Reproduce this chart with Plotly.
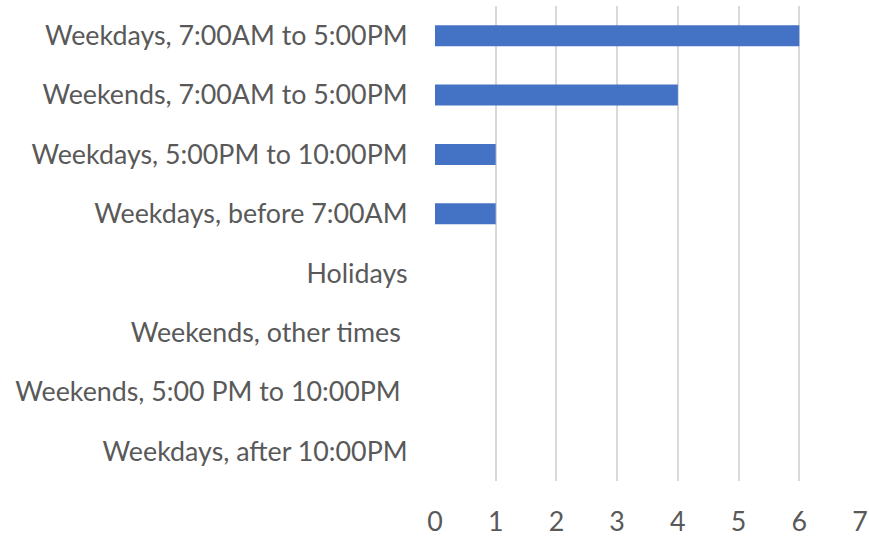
import plotly.graph_objects as go

categories = [
    "Weekdays, 7:00AM to 5:00PM",
    "Weekends, 7:00AM to 5:00PM",
    "Weekdays, 5:00PM to 10:00PM",
    "Weekdays, before 7:00AM",
    "Holidays",
    "Weekends, other times\u00a0",
    "Weekends, 5:00 PM to 10:00PM\u00a0",
    "Weekdays, after 10:00PM",
]
values = [6, 4, 1, 1, 0, 0, 0, 0]
x_ticks = [0, 1, 2, 3, 4, 5, 6, 7]

fig = go.Figure(go.Bar(
    y=categories, x=values, orientation="h",
    marker=dict(color="#4472C4", line=dict(width=0)),
))

fig.update_layout(
    width=869, height=550,
    margin=dict(l=435, r=9, t=6, b=69),
    paper_bgcolor="white", plot_bgcolor="white",
    bargap=0.645,
    showlegend=False,
    font=dict(family="Lato", size=26.8, color="#595959"),
)
fig.update_xaxes(
    range=[0, 7], tickvals=x_ticks, showgrid=True, gridcolor="#D9D9D9",
    gridwidth=1.5, zeroline=False, showline=False, ticks="outside",
    ticklen=17, tickcolor="rgba(0,0,0,0)", automargin=False,
    ticklabeloverflow="allow",
)
fig.update_yaxes(
    autorange="reversed", categoryorder="array", categoryarray=categories,
    showgrid=False, zeroline=False, showline=False, ticks="outside",
    ticklen=21, tickcolor="rgba(0,0,0,0)", automargin=False,
    ticklabeloverflow="allow",
)

fig.write_html(
    "out.html",
    config={"displayModeBar": False},
    post_script="document.body.style.margin='0px';",
)
